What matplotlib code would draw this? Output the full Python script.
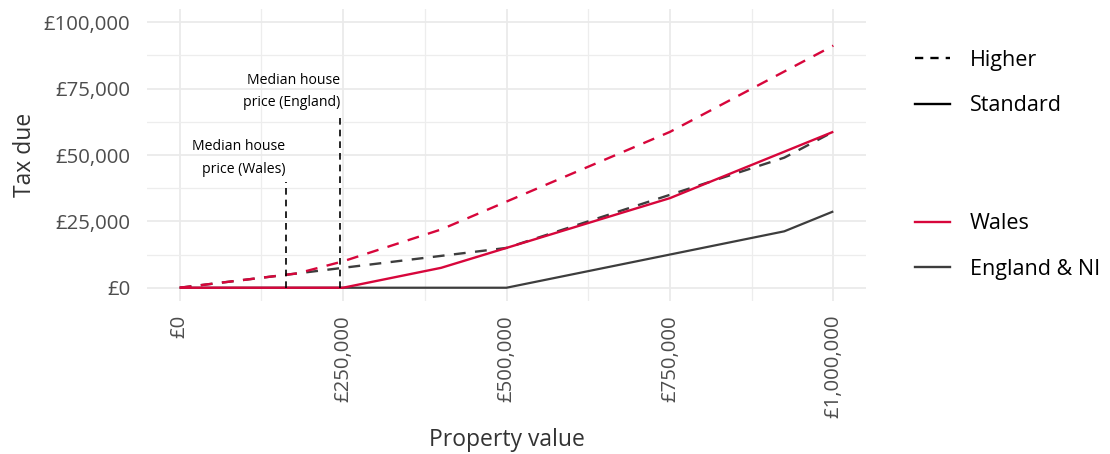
import matplotlib
matplotlib.use("Agg")
import matplotlib.pyplot as plt
from matplotlib.lines import Line2D
from matplotlib.ticker import FuncFormatter, MultipleLocator

# ---------------- data ----------------
wales_std_x = [0, 250000, 400000, 750000, 1000000]
wales_std_y = [0, 0, 7500, 33750, 58750]
wales_hi_x = [0, 180000, 250000, 400000, 750000, 1000000]
wales_hi_y = [0, 5400, 9950, 21950, 58700, 91200]
eng_std_x = [0, 500000, 925000, 1000000]
eng_std_y = [0, 0, 21250, 28750]
eng_hi_x = [0, 500000, 925000, 1000000]
eng_hi_y = [0, 15000, 49000, 58750]

median_labels = ["Median house\nprice (Wales)", "Median house\nprice (England)"]
median_prices = [162000, 245000]
median_line_tops = [40000, 65000]

x_ticks = [0, 250000, 500000, 750000, 1000000]
y_ticks = [0, 25000, 50000, 75000, 100000]

RED = "#D7063B"
GREY = "#3D3D3D"
FONT = ["Open Sans", "DejaVu Sans"]
plt.rcParams["font.family"] = FONT

W, H = 1110, 454
fig = plt.figure(figsize=(W / 100, H / 100), dpi=100)
L, R, T, B = 147, 866, 9, 301
ax = fig.add_axes([L / W, (H - B) / H, (R - L) / W, (B - T) / H])

ax.set_xlim(-50000, 1050000)
ax.set_ylim(-5000, 105000)

for s in ax.spines.values():
    s.set_visible(False)

ax.set_xticks(x_ticks)
ax.set_yticks(y_ticks)
ax.xaxis.set_minor_locator(MultipleLocator(125000))
ax.yaxis.set_minor_locator(MultipleLocator(12500))
ax.grid(which="major", color="#EAEAEA", lw=1.3)
ax.grid(which="minor", color="#EDEDED", lw=0.9)
ax.set_axisbelow(True)

fmt = FuncFormatter(lambda v, p: "£{:,.0f}".format(v))
ax.xaxis.set_major_formatter(fmt)
ax.yaxis.set_major_formatter(fmt)
ax.tick_params(which="both", length=0)
ax.tick_params(axis="x", labelrotation=90, pad=10, labelsize=14.7, labelcolor="#4D4D4D")
ax.tick_params(axis="y", pad=12, labelsize=14.7, labelcolor="#4D4D4D")

dash = (0, (5, 4))
ax.plot(eng_std_x, eng_std_y, color=GREY, lw=1.6, solid_capstyle="butt")
ax.plot(eng_hi_x, eng_hi_y, color=GREY, lw=1.7, linestyle=dash)
ax.plot(wales_std_x, wales_std_y, color=RED, lw=1.7, solid_capstyle="butt")
ax.plot(wales_hi_x, wales_hi_y, color=RED, lw=1.7, linestyle=dash)

for lab, px, top in zip(median_labels, median_prices, median_line_tops):
    ax.plot([px, px], [0, top], color="black", lw=1.2, linestyle=(0, (4, 3)))
    ax.text(px, top + 1800, lab, ha="right", va="bottom", fontsize=10.1,
            color="black", linespacing=1.68)

ax.set_xlabel("Property value", fontsize=16.5, color="#333333")
ax.set_ylabel("Tax due", fontsize=16.5, color="#333333")
ax.xaxis.set_label_coords(0.5, -0.476)
ax.yaxis.set_label_coords(-0.17, 0.5)
ax.xaxis.label.set_va("center")
ax.yaxis.label.set_va("center")

fs = 15.5
common = dict(frameon=False, fontsize=fs, handlelength=1.63, handletextpad=0.93,
              labelspacing=1.14, borderpad=0, borderaxespad=0, loc="center left")
h1 = [Line2D([], [], color="black", lw=1.7, linestyle=(0, (3.5, 3))),
      Line2D([], [], color="black", lw=1.7)]
leg1 = fig.legend(h1, ["Higher", "Standard"], bbox_to_anchor=(915 / W, 1 - 83 / H), **common)
h2 = [Line2D([], [], color=RED, lw=1.7),
      Line2D([], [], color=GREY, lw=1.7)]
leg2 = fig.legend(h2, ["Wales", "England & NI"], bbox_to_anchor=(915 / W, 1 - 246.5 / H), **common)

fig.savefig("out.png", dpi=100)
